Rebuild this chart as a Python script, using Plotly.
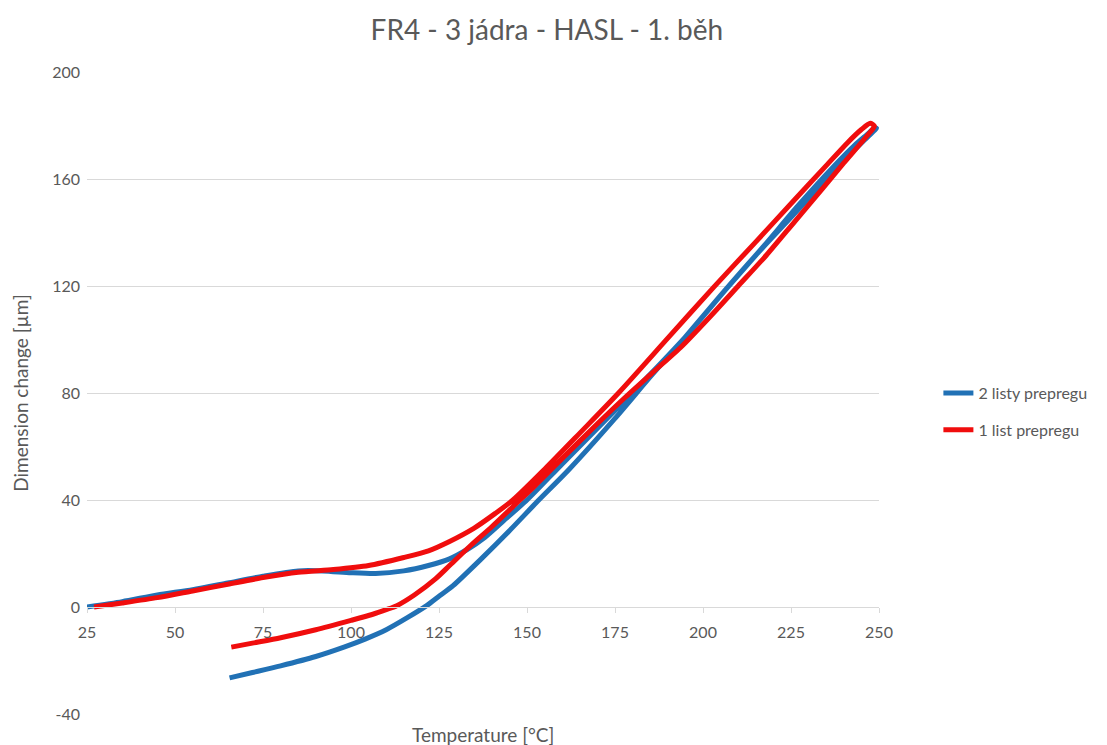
import plotly.graph_objects as go

# Temperature [°C] and dimension change [µm]
# Series 1: "2 listy prepregu" (blue) — heating then cooling branch
blue_heat_t = [25, 35, 45, 55, 65, 75, 85, 92, 100, 107, 115, 122, 128, 133, 138, 144, 150, 160, 175, 185, 195, 207, 217, 227, 237, 243, 246.5, 248.7]
blue_heat_v = [0, 2, 4.5, 6.5, 9, 11.5, 13.5, 13.5, 12.8, 12.5, 13.5, 15.5, 18, 21.5, 26, 33, 40, 53.5, 73.5, 87, 101, 119.5, 134.5, 150, 164.5, 172.5, 176.5, 179]
blue_cool_t = [249.3, 247, 242, 235, 227, 215, 205, 195, 185, 175, 162, 153, 145, 137, 129, 125, 121.5, 116, 110, 104, 98, 90, 80, 72, 65.5]
blue_cool_v = [179, 176, 169.5, 160, 148.5, 131.5, 116.5, 101, 86, 70.5, 51.5, 39.5, 28.5, 18, 8, 4, 0.5, -4, -8.5, -12, -15, -18.5, -22, -24.5, -26.5]

# Series 2: "1 list prepregu" (red) — heating then cooling branch
red_heat_t = [27, 35, 45, 55, 65, 75, 85, 95, 105, 115, 122, 128, 135, 141, 146, 155, 165, 176, 190, 203, 215, 225.5, 235, 241, 245, 247.5]
red_heat_v = [0, 1.5, 3.5, 6, 8.5, 11, 13, 14, 15.5, 18.5, 21, 24.5, 29.5, 35, 40, 51.5, 65, 80, 100.5, 119.5, 136.5, 151.5, 165, 173.5, 178.5, 180.8]
red_cool_t = [248.7, 246.5, 240, 234, 226, 218, 210, 202, 194, 186, 178, 170, 160, 152, 146, 140, 134, 128, 124, 118, 113, 110, 106, 100, 90, 80, 72, 66]
red_cool_v = [179.8, 176, 166, 156.5, 144, 131.5, 120, 108.5, 97.5, 88, 78.5, 68.5, 55.5, 45, 37.5, 30, 23, 15.5, 10.5, 4.5, 0.5, -1, -2.8, -5, -8.5, -11.5, -13.5, -15]

series_names = ["2 listy prepregu", "1 list prepregu"]
x_ticks = [25, 50, 75, 100, 125, 150, 175, 200, 225, 250]
y_ticks = [-40, 0, 40, 80, 120, 160, 200]

BLUE = "#2171B5"
RED = "#F00D0D"
GREY = "#595959"
FONT = "Lato"

fig = go.Figure()
fig.add_trace(go.Scatter(
    x=blue_heat_t + blue_cool_t, y=blue_heat_v + blue_cool_v,
    mode="lines", name=series_names[0], legendgroup="a",
    line=dict(color=BLUE, width=5, shape="spline", smoothing=0.7),
))
fig.add_trace(go.Scatter(
    x=red_heat_t + red_cool_t, y=red_heat_v + red_cool_v,
    mode="lines", name=series_names[1], legendgroup="b",
    line=dict(color=RED, width=5, shape="spline", smoothing=0.7),
))

fig.update_layout(
    width=1107, height=745,
    margin=dict(l=87, r=228, t=72, b=31),
    paper_bgcolor="white", plot_bgcolor="white",
    font=dict(family=FONT, color=GREY, size=16),
    title=dict(text="FR4 - 3 jádra - HASL - 1. běh", x=0.494, xanchor="center",
               y=0.96, yanchor="middle", font=dict(size=28, color=GREY, family=FONT)),
    showlegend=True,
    legend=dict(x=1.075, xanchor="left", y=0.471, yanchor="middle",
                traceorder="grouped", tracegroupgap=13,
                font=dict(size=16, color=GREY, family=FONT),
                bgcolor="rgba(0,0,0,0)"),
    xaxis=dict(range=[25, 250], tickvals=x_ticks, ticktext=[str(v) for v in x_ticks],
               anchor="free", position=40 / 240,
               showgrid=False, zeroline=False, showline=True, linecolor="#D9D9D9", linewidth=1,
               ticks="outside", ticklen=5, tickcolor="#D9D9D9", ticklabelstandoff=6,
               tickfont=dict(size=16, color=GREY, family=FONT)),
    yaxis=dict(range=[-40, 200], tickvals=y_ticks, ticktext=[str(v) for v in y_ticks],
               showgrid=True, gridcolor="#D9D9D9", gridwidth=1, zeroline=False, showline=False,
               ticks="", ticklabelstandoff=6,
               tickfont=dict(size=16, color=GREY, family=FONT),
               title=dict(text="Dimension change [µm]", font=dict(size=19, color=GREY, family=FONT),
                          standoff=18)),
    annotations=[dict(text="Temperature [°C]", x=0.5, xref="paper", y=-0.0327, yref="paper",
                      xanchor="center", yanchor="middle", showarrow=False,
                      font=dict(size=19, color=GREY, family=FONT))],
)

fig.write_html("out.html")
